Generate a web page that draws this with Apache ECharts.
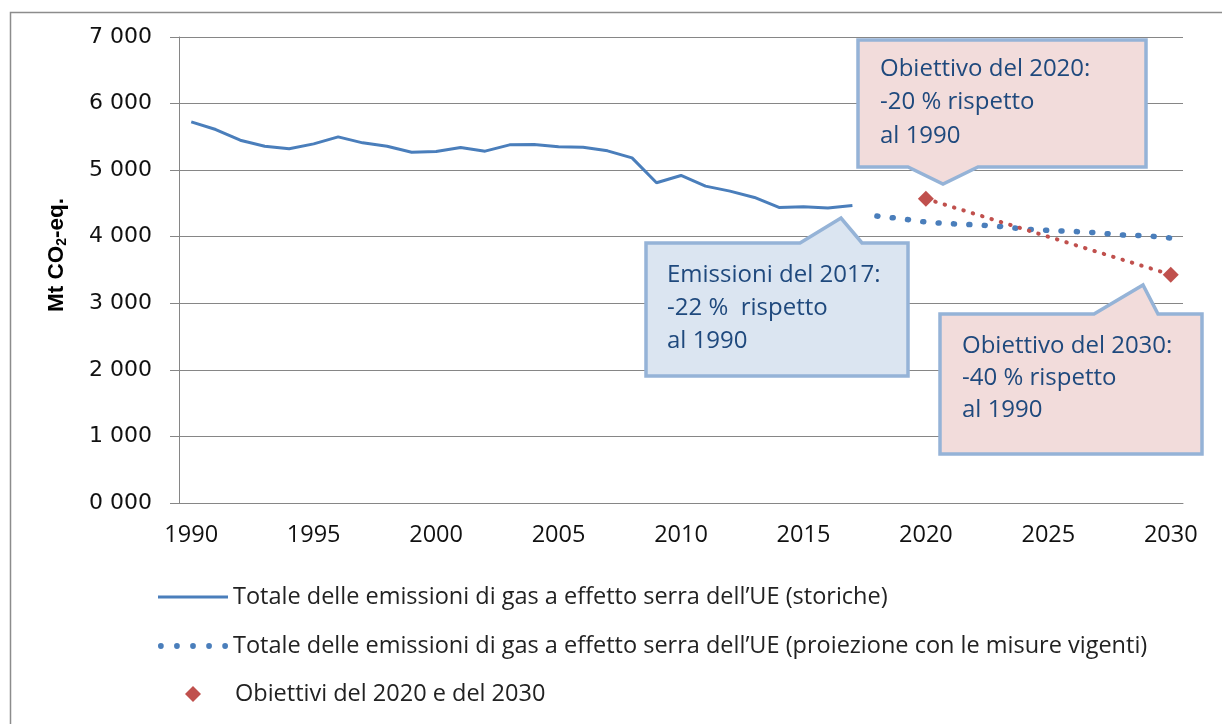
<!DOCTYPE html>
<html>
<head>
<meta charset="utf-8">
<script src="https://cdn.jsdelivr.net/npm/echarts@6/dist/echarts.min.js"></script>
<style>
  html, body { margin: 0; padding: 0; background: #fff; }
  #main { width: 1222px; height: 724px; }
</style>
</head>
<body>
<div id="main"></div>
<script>
// categories: one per year
const years = ['1990', '1991', '1992', '1993', '1994', '1995', '1996', '1997', '1998', '1999',
  '2000', '2001', '2002', '2003', '2004', '2005', '2006', '2007', '2008', '2009',
  '2010', '2011', '2012', '2013', '2014', '2015', '2016', '2017', '2018', '2019',
  '2020', '2021', '2022', '2023', '2024', '2025', '2026', '2027', '2028', '2029', '2030'];

// historical emissions 1990-2017 (Mt CO2-eq.)
const historic = [5725, 5610, 5450, 5360, 5320, 5395, 5500, 5410, 5360, 5270,
  5280, 5340, 5285, 5380, 5385, 5350, 5345, 5290, 5185, 4810,
  4920, 4760, 4685, 4590, 4440, 4450, 4430, 4470];

// projection with existing measures 2018-2030
const projectionYears = ['2018', '2019', '2020', '2021', '2022', '2023', '2024', '2025', '2026', '2027', '2028', '2029', '2030'];
const projection = [4310, 4270, 4220, 4195, 4180, 4155, 4115, 4095, 4080, 4060, 4025, 4015, 3980];

// targets
const targetYears = ['2020', '2030'];
const targets = [4570, 3430];

const yTicks = [0, 1000, 2000, 3000, 4000, 5000, 6000, 7000];

const nameHist = 'Totale delle emissioni di gas a effetto serra dell\u2019UE (storiche)';
const nameProj = 'Totale delle emissioni di gas a effetto serra dell\u2019UE (proiezione con le misure vigenti)';
const nameTarget = 'Obiettivi del 2020 e del 2030';

function alignTo(keys, vals) {
  return years.map(function (y) {
    const i = keys.indexOf(y);
    return i < 0 ? null : vals[i];
  });
}

const histData = years.map(function (y, i) { return i < historic.length ? historic[i] : null; });
const projData = alignTo(projectionYears, projection);
const targetData = alignTo(targetYears, targets);

const blue = '#4a7ebb';
const red = '#c0504d';
const grey = '#868686';
const boxLine = '#95b3d7';
const boxText = '#1f497d';
const font = 'Open Sans';
const legendText = { fontFamily: font, fontSize: 23.5, color: '#222' };

// legend swatches: a plain bar and a row of five dots
const solidIcon = 'path://M0,0H70V3H0Z';
const dotsIcon = 'path://' + [2.8, 18.4, 34, 49.6, 65.2].map(function (c) {
  return 'M' + (c - 2.8) + ',2.8A2.8,2.8,0,1,0,' + (c + 2.8) + ',2.8A2.8,2.8,0,1,0,' + (c - 2.8) + ',2.8Z';
}).join('');

function fmt(v) {
  const th = Math.floor(v / 1000);
  const rest = String(v % 1000).padStart(3, '0');
  return th + ' ' + rest;
}

function callout(points, fill, text, x, y, lh) {
  return [
    {
      type: 'polygon',
      shape: { points: points },
      style: { fill: fill, stroke: boxLine, lineWidth: 3.5, lineJoin: 'miter' },
      z: 10
    },
    {
      type: 'text',
      x: x, y: y,
      style: {
        text: text, fill: boxText, font: '24px "' + font + '"',
        lineHeight: lh, verticalAlign: 'top', align: 'left'
      },
      z: 11
    }
  ];
}

const myChart = echarts.init(document.getElementById('main'));

myChart.setOption({
  animation: false,
  backgroundColor: '#fff',
  grid: { left: 179, right: 39, top: 37, bottom: 221, containLabel: false },
  xAxis: {
    type: 'category',
    data: years,
    boundaryGap: true,
    axisLine: { lineStyle: { color: grey, width: 1 } },
    axisTick: { interval: 0, alignWithLabel: false, length: 8, lineStyle: { color: grey } },
    axisLabel: { interval: 4, color: '#111', fontFamily: font, fontSize: 23.5, margin: 20 },
    splitLine: { show: false }
  },
  yAxis: {
    type: 'value',
    min: yTicks[0],
    max: yTicks[yTicks.length - 1],
    interval: 1000,
    name: '{a|Mt CO}{s|2}{a|-eq.}',
    nameLocation: 'middle',
    nameGap: 110,
    nameRotate: 90,
    nameTextStyle: {
      padding: [0, 0, 0, 30],
      rich: {
        a: { fontFamily: 'Liberation Sans', fontWeight: 'bold', fontSize: 22.5, color: '#000' },
        s: { fontFamily: 'Liberation Sans', fontWeight: 'bold', fontSize: 14, color: '#000', padding: [10, 0, 0, 0] }
      }
    },
    axisLine: { show: true, lineStyle: { color: grey, width: 1 } },
    axisTick: { show: true, length: 9, lineStyle: { color: grey } },
    axisLabel: { formatter: fmt, color: '#111', fontFamily: 'DejaVu Sans', fontSize: 22, margin: 27 },
    splitLine: { lineStyle: { color: grey, width: 1 } }
  },
  legend: [
    {
      orient: 'vertical',
      left: 158,
      top: 585,
      padding: 0,
      itemWidth: 70,
      itemHeight: 16,
      itemGap: 25,
      textStyle: legendText,
      data: [
        { name: nameHist, icon: solidIcon },
        { name: nameProj, icon: dotsIcon }
      ]
    },
    {
      orient: 'vertical',
      left: 185,
      top: 682,
      padding: 0,
      itemWidth: 16,
      itemHeight: 16,
      textStyle: Object.assign({ padding: [0, 0, 0, 29] }, legendText),
      data: [{ name: nameTarget, icon: 'diamond' }]
    }
  ],
  series: [
    {
      name: nameHist,
      type: 'line',
      data: histData,
      symbol: 'none',
      lineStyle: { color: blue, width: 3 },
      itemStyle: { color: blue },
      z: 3
    },
    {
      name: nameProj,
      type: 'line',
      data: projData,
      symbol: 'none',
      lineStyle: { color: blue, width: 5.5, type: [1, 14.4], cap: 'round' },
      itemStyle: { color: blue },
      z: 3
    },
    {
      name: 'trend',
      type: 'line',
      data: targetData,
      connectNulls: true,
      symbol: 'none',
      lineStyle: { color: red, width: 4, type: [0.5, 9.3], cap: 'round' },
      itemStyle: { color: red },
      z: 4
    },
    {
      name: nameTarget,
      type: 'scatter',
      data: targetData,
      symbol: 'diamond',
      symbolSize: 16,
      itemStyle: { color: red, opacity: 1 },
      z: 5
    }
  ],
  graphic: [
    {
      type: 'rect',
      shape: { x: 10.5, y: 12.5, width: 1240, height: 740 },
      style: { fill: null, stroke: '#8c8c8c', lineWidth: 1.5 },
      silent: true
    }
  ].concat(
    callout([[646, 243], [800, 243], [841, 218], [862, 243], [908, 243], [908, 376], [646, 376]],
      '#dbe5f1', 'Emissioni del 2017:\n-22 %  rispetto\nal 1990', 667, 259, 33),
    callout([[858, 40], [1146, 40], [1146, 167], [978, 167], [943, 184], [908, 167], [858, 167]],
      '#f2dcdb', 'Obiettivo del 2020:\n-20 % rispetto\nal 1990', 880, 52, 33.5),
    callout([[940, 314], [1094, 314], [1143, 285], [1158, 314], [1202, 314], [1202, 454], [940, 454]],
      '#f2dcdb', 'Obiettivo del 2030:\n-40 % rispetto\nal 1990', 962, 330, 32)
  )
});
</script>
</body>
</html>
